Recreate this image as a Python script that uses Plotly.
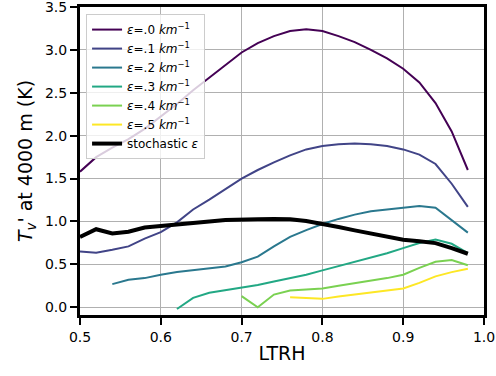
import plotly.graph_objects as go

ltrh = [0.50, 0.52, 0.54, 0.56, 0.58, 0.60, 0.62, 0.64, 0.66, 0.68, 0.70, 0.72,
        0.74, 0.76, 0.78, 0.80, 0.82, 0.84, 0.86, 0.88, 0.90, 0.92, 0.94, 0.96, 0.98]

eps0 = [1.58, 1.75, 1.86, 1.96, 2.08, 2.22, 2.37, 2.53, 2.68, 2.83, 2.97, 3.08,
        3.16, 3.22, 3.24, 3.22, 3.16, 3.09, 3.00, 2.90, 2.78, 2.62, 2.38, 2.05, 1.60]
eps1 = [0.65, 0.635, 0.67, 0.71, 0.80, 0.875, 0.99, 1.14, 1.255, 1.375, 1.50, 1.60,
        1.69, 1.77, 1.84, 1.88, 1.90, 1.91, 1.90, 1.88, 1.84, 1.78, 1.67, 1.44, 1.17]
eps2 = [None, None, 0.27, 0.32, 0.34, 0.38, 0.41, 0.43, 0.45, 0.475, 0.525, 0.59,
        0.71, 0.82, 0.90, 0.97, 1.03, 1.08, 1.12, 1.14, 1.16, 1.18, 1.16, 1.02, 0.87]
eps3 = [None, None, None, None, None, None, -0.02, 0.11, 0.17, 0.20, 0.23, 0.26,
        0.30, 0.34, 0.38, 0.43, 0.48, 0.53, 0.58, 0.63, 0.69, 0.75, 0.79, 0.74, 0.63]
eps4 = [None, None, None, None, None, None, None, None, None, None, 0.13, 0.0,
        0.148, 0.195, 0.207, 0.22, 0.25, 0.28, 0.31, 0.34, 0.38, 0.46, 0.53, 0.55, 0.49]
eps5 = [None, None, None, None, None, None, None, None, None, None, None, None,
        None, 0.117, 0.105, 0.098, 0.125, 0.148, 0.164, 0.195, 0.22, 0.285, 0.36, 0.41, 0.45]
stoch = [0.82, 0.91, 0.86, 0.88, 0.93, 0.95, 0.966, 0.98, 1.0, 1.016, 1.025, 1.025,
         1.03, 1.025, 1.005, 0.974, 0.935, 0.896, 0.857, 0.818, 0.787, 0.77, 0.748, 0.69, 0.624]

series = [eps0, eps1, eps2, eps3, eps4, eps5]
labels = [".0", ".1", ".2", ".3", ".4", ".5"]
colors = ["#440154", "#414487", "#2a788e", "#22a884", "#7ad151", "#fde725"]

fig = go.Figure()
for ys, lab, col in zip(series, labels, colors):
    fig.add_trace(go.Scatter(
        x=ltrh, y=ys, mode="lines",
        name=f"<i>ε</i>={lab} <i>km</i><sup>−1</sup>",
        line=dict(color=col, width=2), connectgaps=False))
fig.add_trace(go.Scatter(
    x=ltrh, y=stoch, mode="lines", name="stochastic <i>ε</i>",
    line=dict(color="black", width=4)))

axis_common = dict(
    showline=True, linewidth=3, linecolor="black", mirror=True,
    ticks="outside", ticklen=7, tickwidth=2, tickcolor="black",
    showgrid=True, gridcolor="#b0b0b0", gridwidth=1.3,
    zeroline=False, tickfont=dict(size=14, color="black"),
    automargin=False, ticklabeloverflow="allow",
)

fig.update_layout(
    width=496, height=376,
    margin=dict(l=80, r=12, t=7, b=61),
    paper_bgcolor="white", plot_bgcolor="white",
    font=dict(family="DejaVu Sans", color="black"),
    xaxis=dict(range=[0.5, 1.0], tickvals=[0.5, 0.6, 0.7, 0.8, 0.9, 1.0],
               tickformat=".1f",
               title=dict(text="LTRH", font=dict(size=19), standoff=3),
               **axis_common),
    yaxis=dict(range=[-0.09, 3.5], tickvals=[0, 0.5, 1, 1.5, 2, 2.5, 3, 3.5],
               tickformat=".1f",
               title=dict(text="<i>T</i><sub><i>v</i></sub>' at 4000 m (K)",
                          font=dict(size=19), standoff=8),
               **axis_common),
    legend=dict(x=0.015, y=0.977, xanchor="left", yanchor="top",
                bgcolor="rgba(255,255,255,0.8)", bordercolor="#cccccc",
                borderwidth=1, font=dict(size=12), tracegroupgap=0,
                itemwidth=30),
    showlegend=True,
)

fig.write_html("out.html")
